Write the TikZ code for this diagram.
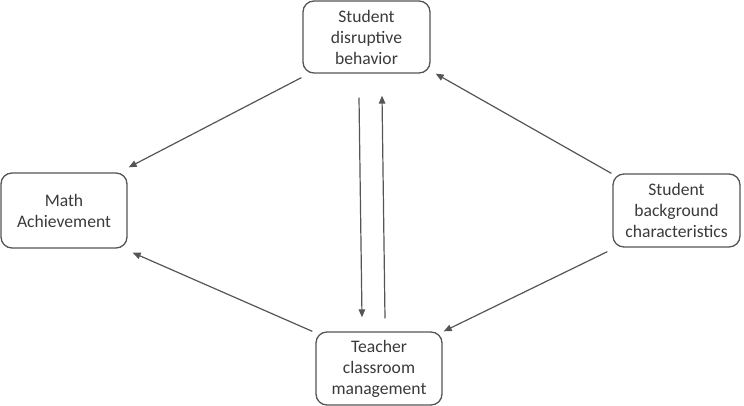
\documentclass[tikz,border=0pt]{standalone}
\usepackage{fontspec}
\setmainfont{Carlito}
\usetikzlibrary{arrows.meta}
\definecolor{txtgray}{HTML}{3A3A3A}
\definecolor{linegray}{HTML}{555555}
\begin{document}
\begin{tikzpicture}[x=1pt,y=-1pt,
  box/.style={draw=linegray, line width=1.3pt, rounded corners=11pt, align=center,
    text=txtgray, font=\fontsize{17.6}{21}\selectfont, inner sep=0pt},
  conn/.style={draw=linegray, line width=1.2pt, -{Triangle[length=8pt,width=6.5pt]}}]
\useasboundingbox (0,0) rectangle (744,406);
\node[box, minimum width=127pt, minimum height=72pt] (dis) at (366.5,37) {Student\\disruptive\\behavior};
\node[box, minimum width=127pt, minimum height=73pt] (bg) at (676.5,210.5) {Student\\background\\characteristics};
\node[box, minimum width=126pt, minimum height=73pt] (tcm) at (379,368.5) {Teacher\\classroom\\management};
\node[box, minimum width=126pt, minimum height=75pt] (math) at (64,210.5) {Math\\Achievement};
\draw[conn] ([shift={(-1,4)}]dis.south west) -- ([shift={(1,-5)}]math.north east);
\draw[conn] ([shift={(-3,0)}]tcm.north west) -- ([shift={(5,4)}]math.south east);
\draw[conn] ([shift={(-1,0)}]bg.north west) -- ([shift={(5,0)}]dis.south east);
\draw[conn] ([shift={(-5,4)}]bg.south west) -- ([shift={(1,0)}]tcm.north east);
\draw[conn] ([shift={(-7.5,24)}]dis.south) -- ([shift={(-17,-14)}]tcm.north);
\draw[conn] ([shift={(6,-13)}]tcm.north) -- ([shift={(15.5,22)}]dis.south);
\end{tikzpicture}
\end{document}
